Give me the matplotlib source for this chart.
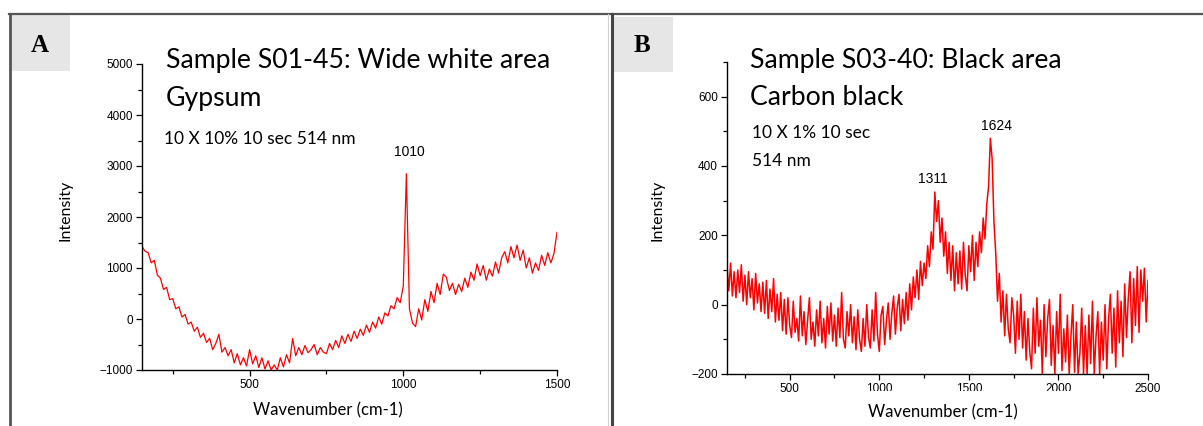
import numpy as np
import matplotlib.pyplot as plt
from matplotlib.lines import Line2D
from matplotlib.patches import Rectangle
from matplotlib.ticker import MultipleLocator

# Panel A: gypsum spectrum, 150-1500 cm-1 every 10
wn_a = np.arange(150, 1501, 10)
int_a = [1420, 1330, 1300, 1100, 1150, 860, 800, 580, 620, 380,
         400, 200, 240, 40, 90, -100, -60, -240, -160, -360,
         -280, -460, -380, -600, -480, -300, -650, -560, -720, -600,
         -860, -680, -900, -760, -920, -600, -880, -720, -950, -760,
         -980, -820, -1000, -900, -1000, -760, -940, -700, -860, -380,
         -720, -560, -700, -520, -660, -600, -500, -700, -560, -650,
         -680, -480, -600, -420, -560, -330, -480, -300, -440, -240,
         -380, -200, -320, -120, -260, -60, -180, 40, -100, 120,
         60, 260, 200, 420, 320, 650, 2850, 200, -80, -150,
         200, -20, 380, 150, 540, 320, 700, 480, 880, 820,
         560, 700, 480, 680, 540, 800, 620, 920, 760, 1080,
         850, 1050, 760, 980, 840, 1120, 900, 1200, 1320, 1100,
         1420, 1200, 1450, 1150, 1350, 1000, 1200, 900, 1100, 950,
         1250, 1050, 1300, 1100, 1280, 1700]

# Panel B: carbon black spectrum, 150-2500 cm-1 every 10
wn_b = np.arange(150, 2501, 10)
int_b = [110, 40, 120, 25, 95, 20, 100, 35, 115, 10,
         85, 0, 95, 20, 75, -15, 90, 5, 60, -20,
         65, -25, 70, -40, 45, -20, 75, -50, 30, -45,
         35, -75, 15, -85, 20, -60, -95, 10, -80, -40,
         -105, 25, -90, -20, -115, -45, 20, -100, -50, -120,
         -15, -90, 10, -110, -40, -125, -5, -85, 5, -105,
         -30, -120, -10, -95, 35, -100, -125, -20, -90, 0,
         -110, -35, -130, -15, -100, -135, -40, -120, 0, -95,
         -125, -15, -105, 35, -85, -135, -30, -5, -115, -45,
         5, -100, -25, 25, -85, -10, 30, -75, 15, -55,
         35, -45, 60, -15, 80, 20, 100, 15, 125, 55,
         120, 75, 170, 110, 210, 160, 325, 240, 300, 180,
         250, 140, 210, 90, 180, 70, 170, 40, 150, 60,
         155, 45, 180, 85, 40, 170, 95, 200, 70, 180,
         110, 210, 150, 250, 190, 290, 340, 480, 420, 240,
         150, 10, 90, -50, 40, -90, 30, -70, -110, 20,
         -30, -140, 10, -100, 30, -125, -20, -160, -40, -135,
         -185, -10, -140, 20, -120, -45, -200, 0, -150, -40,
         15, -175, -60, -200, -20, -140, 30, -190, -70, -165,
         -30, -200, -90, 0, -195, -50, -200, -140, -10, -200,
         -60, -200, -30, -170, 10, -200, -90, -20, -200, -50,
         -160, 0, -185, -40, 30, -140, -10, -180, 40, -110,
         10, -150, 60, -95, 20, 95, -110, 75, -60, 110,
         -80, 100, 10, 105, -50, 70]

W, H = 1203, 426
sans = ['Lato', 'DejaVu Sans']
arial = ['Liberation Sans', 'DejaVu Sans']


def fx(x):
    return x / W


def fy(y):
    return 1 - y / H


fig = plt.figure(figsize=(W / 100, H / 100), dpi=100)


def panel(box, wn, inten, xlim, ylim, ymaj, ymin, lw):
    l, t, r, b = box
    ax = fig.add_axes([fx(l), fy(b), (r - l) / W, (b - t) / H])
    ax.plot(wn, inten, color='#ff0000', lw=lw)
    ax.set_xlim(*xlim)
    ax.set_ylim(*ylim)
    ax.xaxis.set_major_locator(MultipleLocator(500))
    ax.xaxis.set_minor_locator(MultipleLocator(250))
    ax.yaxis.set_major_locator(MultipleLocator(ymaj))
    ax.yaxis.set_minor_locator(MultipleLocator(ymin))
    for s in ['top', 'right']:
        ax.spines[s].set_visible(False)
    for s in ['left', 'bottom']:
        ax.spines[s].set_linewidth(1.0)
    ax.tick_params(which='major', length=4.5, width=0.9, pad=2)
    ax.tick_params(which='minor', length=3, width=0.9)
    for lab in ax.get_xticklabels() + ax.get_yticklabels():
        lab.set_family(arial)
        lab.set_fontsize(8.5)
    return ax


ax_a = panel((142, 64, 557, 370), wn_a, int_a, (150, 1500), (-1000, 5000), 1000, 500, 0.9)
ax_b = panel((727, 62, 1148, 374), wn_b, int_b, (150, 2500), (-200, 700), 200, 100, 1.1)

# white box from the x label that covers part of panel B tick labels
fig.add_artist(Rectangle((fx(862), fy(426)), (1090 - 862) / W, (426 - 391) / H,
                         transform=fig.transFigure, facecolor='white',
                         edgecolor='none', zorder=5))

# panel frames
lc = '#555555'
fig.add_artist(Line2D([fx(9), fx(1203)], [fy(14), fy(14)], color=lc, lw=1.6))
fig.add_artist(Line2D([fx(10), fx(10)], [fy(14), fy(426)], color=lc, lw=2.0))
fig.add_artist(Line2D([fx(608), fx(608)], [fy(14), fy(426)], color='#d0d0d0', lw=0.8))
fig.add_artist(Line2D([fx(611.5), fx(611.5)], [fy(14), fy(426)], color='#444444', lw=2.2))

# letter boxes
for (x0, y0, x1, y1), letter in [((11, 15, 70, 71), 'A'), ((614, 17, 673, 72), 'B')]:
    fig.add_artist(Rectangle((fx(x0), fy(y1)), (x1 - x0) / W, (y1 - y0) / H,
                             transform=fig.transFigure, facecolor='#e6e6e6',
                             edgecolor='none'))
    fig.text(fx((x0 + x1) / 2 - 1), fy(45), letter, ha='center', va='center',
             fontsize=18, fontweight='bold', family=['Liberation Serif', 'DejaVu Serif'])

# titles and notes
fig.text(fx(166), fy(68), 'Sample S01-45: Wide white area', fontsize=19.2,
         family=sans, va='baseline')
fig.text(fx(166), fy(106), 'Gypsum', fontsize=19.2, family=sans, va='baseline')
fig.text(fx(164), fy(144), '10 X 10% 10 sec 514 nm', fontsize=12.5,
         family=sans, va='baseline')
fig.text(fx(750), fy(68), 'Sample S03-40: Black area', fontsize=19.2,
         family=sans, va='baseline')
fig.text(fx(750), fy(105), 'Carbon black', fontsize=19.2, family=sans, va='baseline')
fig.text(fx(752), fy(138), '10 X 1% 10 sec', fontsize=12.5, family=sans, va='baseline')
fig.text(fx(752), fy(166), '514 nm', fontsize=12.5, family=sans, va='baseline')

# peak labels
fig.text(fx(409), fy(156), '1010', fontsize=10, family=arial, ha='center', va='baseline')
fig.text(fx(933), fy(183), '1311', fontsize=10, family=arial, ha='center', va='baseline')
fig.text(fx(997), fy(130), '1624', fontsize=10, family=arial, ha='center', va='baseline')

# axis labels
for xc in (66, 657):
    fig.text(fx(xc), fy(210), 'Intensity', fontsize=11.5, family=sans,
             rotation=90, ha='center', va='center')
fig.text(fx(328), fy(410), 'Wavenumber (cm-1)', fontsize=12, family=sans,
         ha='center', va='center', zorder=6)
fig.text(fx(943), fy(412), 'Wavenumber (cm-1)', fontsize=12, family=sans,
         ha='center', va='center', zorder=6)

fig.savefig('out.png', dpi=100)
